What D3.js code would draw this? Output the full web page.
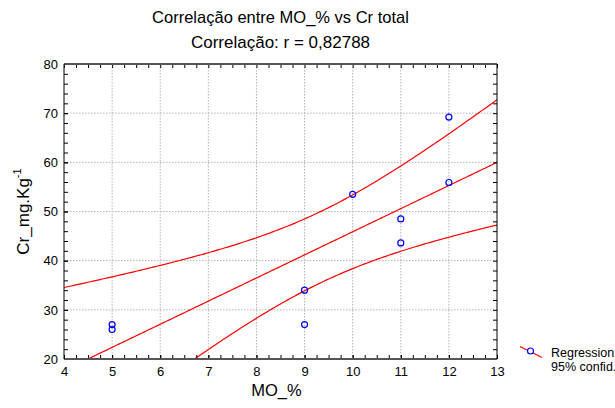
<!DOCTYPE html>
<html>
<head>
<meta charset="utf-8">
<script src="https://cdn.jsdelivr.net/npm/d3@7"></script>
<style>
  body { margin: 0; background: #fff; }
  svg { display: block; font-family: Arial, "Liberation Sans", sans-serif; }
</style>
</head>
<body>
<svg id="chart" width="615" height="408"></svg>
<script>
// data
const moPct = [5, 5, 9, 9, 10, 11, 11, 12, 12]
const crTotal = [27, 26, 34, 27, 53.5, 48.5, 43.6, 69.2, 55.9]
const xTicks = [4, 5, 6, 7, 8, 9, 10, 11, 12, 13]
const yTicks = [20, 30, 40, 50, 60, 70, 80]
const legendLabels = ['Regression', '95% confid.']
const tCrit = 2.3646 // t(0.975, n-2 = 7)

const svg = d3.select('#chart')
const margin = {left: 64, right: 118, top: 64, bottom: 49}
const W = 615 - margin.left - margin.right
const H = 408 - margin.top - margin.bottom

const x = d3.scaleLinear().domain([4, 13]).range([margin.left, margin.left + W])
const y = d3.scaleLinear().domain([20, 80]).range([margin.top + H, margin.top])

// least squares fit + 95% confidence band of the mean
const n = moPct.length
const mx = d3.mean(moPct), my = d3.mean(crTotal)
const sxx = d3.sum(moPct, v => (v - mx) ** 2)
const sxy = d3.sum(moPct, (v, i) => (v - mx) * (crTotal[i] - my))
const slope = sxy / sxx
const icpt = my - slope * mx
const sse = d3.sum(moPct, (v, i) => (crTotal[i] - (icpt + slope * v)) ** 2)
const s = Math.sqrt(sse / (n - 2))
const fit = v => icpt + slope * v
const half = v => tCrit * s * Math.sqrt(1 / n + (v - mx) ** 2 / sxx)
const xs = d3.range(4, 13.001, 0.05)

// grid
svg.append('g').selectAll('line').data(xTicks.slice(1, -1)).join('line')
  .attr('x1', d => x(d)).attr('x2', d => x(d))
  .attr('y1', margin.top).attr('y2', margin.top + H)
  .attr('stroke', '#b4b4b4').attr('stroke-dasharray', '1.5,1.5')
svg.append('g').selectAll('line').data(yTicks.slice(1, -1)).join('line')
  .attr('x1', margin.left).attr('x2', margin.left + W)
  .attr('y1', d => y(d)).attr('y2', d => y(d))
  .attr('stroke', '#b4b4b4').attr('stroke-dasharray', '1.5,1.5')

// fit lines
svg.append('clipPath').attr('id', 'clip').append('rect')
  .attr('x', margin.left).attr('y', margin.top).attr('width', W).attr('height', H)
const line = d3.line().x(d => x(d[0])).y(d => y(d[1]))
const lines = svg.append('g').attr('clip-path', 'url(#clip)')
;[xs.map(v => [v, fit(v)]),
  xs.map(v => [v, fit(v) + half(v)]),
  xs.map(v => [v, fit(v) - half(v)])].forEach(pts => {
  lines.append('path').attr('d', line(pts))
    .attr('fill', 'none').attr('stroke', '#ff0000').attr('stroke-width', 1.2)
})

// points
svg.append('g').selectAll('circle').data(moPct).join('circle')
  .attr('cx', d => x(d)).attr('cy', (d, i) => y(crTotal[i])).attr('r', 3)
  .attr('fill', 'none').attr('stroke', '#0000ff').attr('stroke-width', 1.2)

// axes, ticks inside
const minorX = d3.range(4, 13.001, 0.25)
const minorY = d3.range(20, 80.001, 2)
function styleAxis(g) {
  g.select('.domain').remove()
  g.selectAll('.tick line').attr('stroke', '#000')
  g.selectAll('text').attr('font-size', 13).attr('fill', '#000')
}
svg.append('g').attr('transform', `translate(0,${margin.top + H})`)
  .call(d3.axisBottom(x).tickValues(xTicks).tickSize(-4).tickPadding(8).tickFormat(d3.format('d')))
  .call(styleAxis)
svg.append('g').attr('transform', `translate(0,${margin.top + H})`)
  .call(d3.axisBottom(x).tickValues(minorX).tickSize(-4).tickFormat(''))
  .call(styleAxis)
svg.append('g').attr('transform', `translate(0,${margin.top})`)
  .call(d3.axisTop(x).tickValues(minorX).tickSize(-4).tickFormat(''))
  .call(styleAxis)
svg.append('g').attr('transform', `translate(${margin.left},0)`)
  .call(d3.axisLeft(y).tickValues(yTicks).tickSize(-4).tickPadding(6).tickFormat(d3.format('d')))
  .call(styleAxis)
svg.append('g').attr('transform', `translate(${margin.left},0)`)
  .call(d3.axisLeft(y).tickValues(minorY).tickSize(-4).tickFormat(''))
  .call(styleAxis)
svg.append('g').attr('transform', `translate(${margin.left + W},0)`)
  .call(d3.axisRight(y).tickValues(minorY).tickSize(-4).tickFormat(''))
  .call(styleAxis)

// frame
svg.append('line').attr('x1', margin.left).attr('x2', margin.left + W)
  .attr('y1', margin.top).attr('y2', margin.top).attr('stroke', '#555').attr('stroke-width', 2)
svg.append('line').attr('x1', margin.left).attr('x2', margin.left + W)
  .attr('y1', margin.top + H).attr('y2', margin.top + H).attr('stroke', '#555').attr('stroke-width', 2)
svg.append('line').attr('x1', margin.left).attr('x2', margin.left)
  .attr('y1', margin.top).attr('y2', margin.top + H).attr('stroke', '#000')
svg.append('line').attr('x1', margin.left + W).attr('x2', margin.left + W)
  .attr('y1', margin.top).attr('y2', margin.top + H).attr('stroke', '#000')

// titles
const cx = margin.left + W / 2
svg.append('text').attr('x', cx).attr('y', 22.5).attr('text-anchor', 'middle')
  .attr('font-size', 16.5).text('Correlação entre MO_% vs Cr total')
svg.append('text').attr('x', cx).attr('y', 47.5).attr('text-anchor', 'middle')
  .attr('font-size', 17).text('Correlação: r = 0,82788')
svg.append('text').attr('x', cx - 4).attr('y', 396).attr('text-anchor', 'middle')
  .attr('font-size', 16.5).text('MO_%')
const yl = svg.append('text').attr('transform', `translate(29,${margin.top + H / 2}) rotate(-90)`)
  .attr('text-anchor', 'middle').attr('font-size', 17)
yl.append('tspan').text('Cr_mg.Kg')
yl.append('tspan').attr('font-size', 11).attr('dy', -8).text('-1')

// legend
const lg = svg.append('g')
lg.append('line').attr('x1', 520).attr('y1', 346.5).attr('x2', 542).attr('y2', 357.5)
  .attr('stroke', '#ff0000').attr('stroke-width', 1.2)
lg.append('circle').attr('cx', 530.5).attr('cy', 351).attr('r', 3)
  .attr('fill', '#fff').attr('stroke', '#0000ff').attr('stroke-width', 1.2)
lg.selectAll('text.lab').data(legendLabels).join('text').attr('class', 'lab')
  .attr('x', 551).attr('y', (d, i) => 356.5 + i * 14.5).attr('font-size', 12.5).text(d => d)
</script>
</body>
</html>
